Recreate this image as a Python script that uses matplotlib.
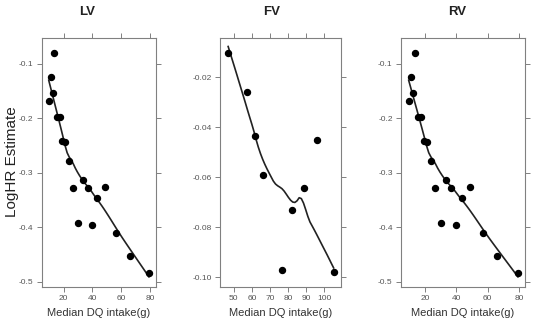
import numpy as np
import matplotlib
matplotlib.use("Agg")
import matplotlib.pyplot as plt

plt.rcParams['font.family'] = ['Liberation Sans', 'DejaVu Sans']

# LV / RV share the same estimates
lv_x = [9.6, 11.0, 12.4, 13.5, 15.4, 17.2, 19.1, 21.2, 23.9, 26.7, 30.2, 33.6,
        36.6, 39.8, 43.5, 48.4, 56.7, 65.9, 79.3]
lv_y = [-0.168, -0.1245, -0.154, -0.080, -0.198, -0.198, -0.242, -0.243, -0.278,
        -0.328, -0.392, -0.313, -0.327, -0.395, -0.346, -0.325, -0.410, -0.452,
        -0.483]
fv_x = [46.9, 57.5, 61.8, 66.4, 76.7, 82.4, 88.6, 96.1, 105.1]
fv_y = [-0.0103, -0.026, -0.0437, -0.0592, -0.0973, -0.0731, -0.0644, -0.0453,
        -0.098]
rv_x = list(lv_x)
rv_y = list(lv_y)

titles = ["LV", "FV", "RV"]
xticks_lv = [20, 40, 60, 80]
xticks_fv = [50, 60, 70, 80, 90, 100]
yticks_lv = [-0.1, -0.2, -0.3, -0.4, -0.5]
yticks_fv = [-0.02, -0.04, -0.06, -0.08, -0.10]


def loess(x, y, xe, span=2/3, iters=4, cell=0.2):
    # R-style loess: local linear fits at kd-tree vertices, Hermite interpolation,
    # bisquare robustness iterations (lattice panel.loess defaults)
    x = np.asarray(x, float)
    y = np.asarray(y, float)
    n = len(x)
    q = int(np.floor(n * span))
    fc = int(np.floor(n * span * cell))

    verts = {x.min(), x.max()}

    def build(pts):
        if len(pts) <= fc:
            return
        pts = np.sort(pts)
        m = len(pts)
        if m % 2:
            v = pts[m // 2]
        else:
            v = (pts[m // 2 - 1] + pts[m // 2]) / 2
        left, right = pts[pts <= v], pts[pts > v]
        if len(left) == m or len(right) == m:
            return
        verts.add(v)
        build(left)
        build(right)

    build(x)
    verts = np.array(sorted(verts))

    def fit_at(x0, rw):
        d = np.abs(x - x0)
        h = np.sort(d)[q - 1] * 1.0001
        w = np.clip(1 - (d / h) ** 3, 0, None) ** 3 * rw
        sw = w.sum()
        xm = (w * x).sum() / sw
        ym = (w * y).sum() / sw
        sxx = (w * (x - xm) ** 2).sum()
        b = (w * (x - xm) * (y - ym)).sum() / sxx if sxx > 0 else 0.0
        return ym + b * (x0 - xm), b

    def surface(xs, rw):
        vf = np.array([fit_at(v, rw) for v in verts])
        xs = np.asarray(xs, float)
        out = np.empty_like(xs)
        for k, x0 in enumerate(xs):
            i = np.clip(np.searchsorted(verts, x0) - 1, 0, len(verts) - 2)
            x1, x2 = verts[i], verts[i + 1]
            hh = x2 - x1
            t = (x0 - x1) / hh
            h00 = 2 * t ** 3 - 3 * t ** 2 + 1
            h10 = t ** 3 - 2 * t ** 2 + t
            h01 = -2 * t ** 3 + 3 * t ** 2
            h11 = t ** 3 - t ** 2
            out[k] = (h00 * vf[i, 0] + h10 * hh * vf[i, 1] +
                      h01 * vf[i + 1, 0] + h11 * hh * vf[i + 1, 1])
        return out

    rw = np.ones(n)
    for it in range(iters - 1):
        res = y - surface(x, rw)
        s = np.median(np.abs(res))
        u = res / (6 * s)
        rw = np.where(np.abs(u) < 1, (1 - u ** 2) ** 2, 0.0)
    return surface(xe, rw)


fig = plt.figure(figsize=(5.33, 3.25), dpi=100)
bottom = 1 - 286.7 / 325
height = (286.7 - 37.7) / 325
panels = [
    (41.7, 114, lv_x, lv_y, (4.7, 84.0), (-0.509, -0.0517), xticks_lv, yticks_lv, "%g", 87),
    (220, 120.7, fv_x, fv_y, (42.4, 109.0), (-0.1038, -0.0042), xticks_fv, yticks_fv, "%.2f", 272),
    (401, 124, rv_x, rv_y, (4.7, 83.8), (-0.509, -0.0517), xticks_lv, yticks_lv, "%g", 457),
]

frame_col = "#808080"
for (left, width, x, y, xl, yl, xt, yt, fmt, tx), title in zip(panels, titles):
    ax = fig.add_axes([left / 533, bottom, width / 533, height])
    ax.plot(x, y, 'o', color='black', markersize=4.3, zorder=3)
    xe = np.linspace(min(x), max(x), 50)
    ax.plot(xe, loess(x, y, xe), color='#222222', lw=1.2, zorder=2)
    ax.set_xlim(*xl)
    ax.set_ylim(*yl)
    ax.set_xticks(xt)
    ax.set_yticks(yt)
    ax.set_yticklabels([fmt % v for v in yt])
    ax.tick_params(direction='out', length=3.5, width=0.7, colors=frame_col,
                   labelcolor='#555555', labelsize=6, pad=2.5,
                   top=True, right=True, labeltop=False, labelright=False)
    for sp in ax.spines.values():
        sp.set_color(frame_col)
        sp.set_linewidth(0.8)
    ax.set_xlabel("Median DQ intake(g)", fontsize=8, color='#333333', labelpad=4)
    fig.text(tx / 533, 1 - 12 / 325, title, fontsize=9.5, fontweight='bold',
             ha='center', va='center', color='#222222')

fig.text(12 / 533, 1 - 162 / 325, "LogHR Estimate", rotation=90, fontsize=11,
         ha='center', va='center', color='#222222')

fig.savefig("out.png", dpi=100)
